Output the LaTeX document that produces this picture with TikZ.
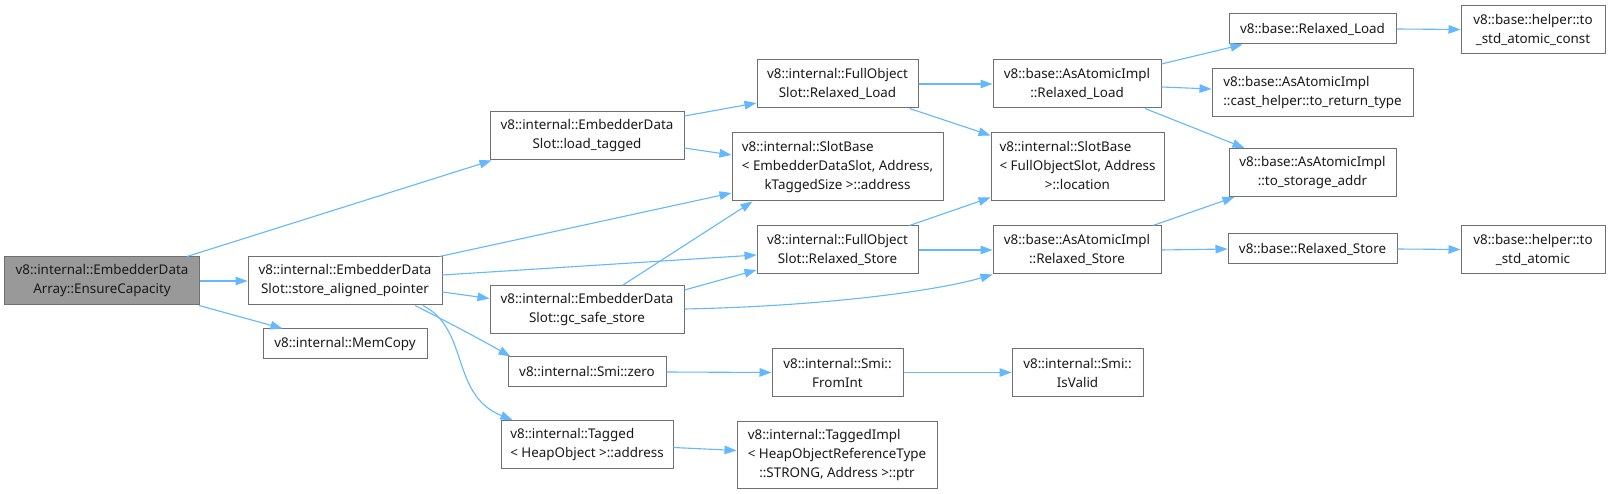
\documentclass[tikz,border=0pt]{standalone}
\usepackage{fontspec}
\setmainfont{Noto Sans}
\usetikzlibrary{arrows.meta,calc}
\definecolor{edgeblue}{HTML}{63B8FF}
\definecolor{boxgray}{HTML}{707070}
\definecolor{rootfill}{HTML}{999999}
\definecolor{txt}{HTML}{1A1A1A}
\newcommand{\lftlines}[3]{\begin{tabular}{@{}l@{}}#1\\#2\\\multicolumn{1}{@{}c@{}}{#3}\end{tabular}}
\newcommand{\lfttwo}[2]{\begin{tabular}{@{}l@{}}#1\\\multicolumn{1}{@{}c@{}}{#2}\end{tabular}}
\begin{document}
\begin{tikzpicture}[x=1pt,y=-1pt,
  callbox/.style={draw=boxgray, line width=1pt, fill=white, inner sep=0pt,
    align=center, font=\fontsize{13.4}{19}\selectfont, text=txt},
  calledge/.style={draw=edgeblue, line width=1.1pt, -{Triangle[length=12pt,width=8.5pt]}}]
\fill[white] (0,0) rectangle (1610,494);
\useasboundingbox (0,0) rectangle (1610,494);

% column 1
\node[callbox, fill=rootfill, minimum width=195pt, minimum height=48pt] (ec) at (102,281) {v8::internal::EmbedderData\\Array::EnsureCapacity};
% column 2
\node[callbox, minimum width=194pt, minimum height=48pt] (sap) at (345,281) {v8::internal::EmbedderData\\Slot::store\_aligned\_pointer};
\node[callbox, minimum width=164pt, minimum height=30pt] (memcopy) at (345,344) {v8::internal::MemCopy};
% column 3
\node[callbox, minimum width=194pt, minimum height=48pt] (lt) at (587,136) {v8::internal::EmbedderData\\Slot::load\_tagged};
\node[callbox, minimum width=194pt, minimum height=48pt] (gcs) at (587,309.5) {v8::internal::EmbedderData\\Slot::gc\_safe\_store};
\node[callbox, minimum width=158pt, minimum height=30pt] (zero) at (587,372) {v8::internal::Smi::zero};
\node[callbox, minimum width=172pt, minimum height=48pt] (tagged) at (587,444.5) {\lfttwo{v8::internal::Tagged}{< HeapObject >::address}};
% column 4
\node[callbox, minimum width=161pt, minimum height=48pt] (fosrl) at (837.5,84) {v8::internal::FullObject\\Slot::Relaxed\_Load};
\node[callbox, minimum width=211pt, minimum height=68pt] (sbe) at (837.5,167) {\lftlines{v8::internal::SlotBase}{< EmbedderDataSlot, Address,}{kTaggedSize >::address}};
\node[callbox, minimum width=161pt, minimum height=48pt] (fosrs) at (837.5,250) {v8::internal::FullObject\\Slot::Relaxed\_Store};
\node[callbox, minimum width=131pt, minimum height=48pt] (fromint) at (837.5,372.5) {v8::internal::Smi::\\FromInt};
\node[callbox, minimum width=200pt, minimum height=67pt] (timpl) at (837,454.5) {\lftlines{v8::internal::TaggedImpl}{< HeapObjectReferenceType}{::STRONG, Address >::ptr}};
% column 5
\node[callbox, minimum width=168pt, minimum height=48pt] (aairl) at (1077,84) {v8::base::AsAtomicImpl\\::Relaxed\_Load};
\node[callbox, minimum width=173pt, minimum height=68pt] (sbf) at (1077.5,167) {\lftlines{v8::internal::SlotBase}{< FullObjectSlot, Address}{>::location}};
\node[callbox, minimum width=168pt, minimum height=48pt] (aairs) at (1077,250) {v8::base::AsAtomicImpl\\::Relaxed\_Store};
\node[callbox, minimum width=131pt, minimum height=48pt] (isvalid) at (1077.5,372.5) {v8::internal::Smi::\\IsValid};
% column 6
\node[callbox, minimum width=167pt, minimum height=30pt] (brl) at (1312.5,29) {v8::base::Relaxed\_Load};
\node[callbox, minimum width=201pt, minimum height=48pt] (cast) at (1312.5,92.5) {\lfttwo{v8::base::AsAtomicImpl}{::cast\_helper::to\_return\_type}};
\node[callbox, minimum width=167pt, minimum height=48pt] (tsa) at (1312.5,172.5) {v8::base::AsAtomicImpl\\::to\_storage\_addr};
\node[callbox, minimum width=169pt, minimum height=30pt] (brs) at (1312.5,249) {v8::base::Relaxed\_Store};
% column 7
\node[callbox, minimum width=144pt, minimum height=48pt] (tsac) at (1533,29.5) {v8::base::helper::to\\\_std\_atomic\_const};
\node[callbox, minimum width=144pt, minimum height=48pt] (tsat) at (1533,249.5) {v8::base::helper::to\\\_std\_atomic};

% edges
\draw[calledge] ($(ec.north)+(85,0)$) -- ($(lt.south west)+(2,0)$);
\draw[calledge] (ec.east) -- (sap.west);
\draw[calledge] ($(ec.south east)+(-1,0)$) -- ($(memcopy.north west)+(20,0)$);

\draw[calledge] ($(sap.north east)+(-3,0)$) -- ($(sbe.west)+(0,26)$);
\draw[calledge] ($(sap.east)+(0,-6)$) -- ($(fosrs.west)+(0,5)$);
\draw[calledge] ($(sap.east)+(0,11)$) -- ($(gcs.west)+(0,-11)$);
\draw[calledge] ($(sap.south)+(70,0)$) .. controls (440,318) and (478,338) .. ($(zero.north west)+(3,0)$);
\draw[calledge] ($(sap.south)+(78,0)$) .. controls (470,330) and (450,395) .. ($(tagged.north west)+(12,0)$);

\draw[calledge] ($(lt.east)+(0,-20)$) -- ($(fosrl.west)+(0,19)$);
\draw[calledge] ($(lt.east)+(0,12)$) -- ($(sbe.west)+(0,-12)$);
\draw[calledge] ($(gcs.north)+(36,0)$) -- ($(sbe.south west)+(21,0)$);
\draw[calledge] ($(gcs.east)+(0,-19.5)$) -- ($(fosrs.west)+(0,20)$);
\draw[calledge] ($(gcs.east)+(0,-0.5)$) .. controls (830,306) and (940,290) .. (aairs.south west);

\draw[calledge] (fosrl.east) -- (aairl.west);
\draw[calledge] ($(fosrl.south)+(72,0)$) -- ($(sbf.north west)+(0,3)$);
\draw[calledge] ($(fosrs.north)+(72,0)$) -- ($(sbf.south west)+(0,-4)$);
\draw[calledge] (fosrs.east) -- (aairs.west);

\draw[calledge] ($(aairl.east)+(0,-20)$) -- ($(brl.south west)+(14,0)$);
\draw[calledge] ($(aairl.east)+(0,3)$) -- ($(cast.west)+(0,-3.5)$);
\draw[calledge] ($(aairl.south)+(68,0)$) -- ($(tsa.north west)+(16,0)$);
\draw[calledge] ($(aairs.north)+(76,0)$) -- ($(tsa.south west)+(6,0)$);
\draw[calledge] (aairs.east) -- (brs.west);

\draw[calledge] (brl.east) -- (tsac.west);
\draw[calledge] (brs.east) -- (tsat.west);

\draw[calledge] (zero.east) -- (fromint.west);
\draw[calledge] (fromint.east) -- (isvalid.west);
\draw[calledge] ($(tagged.east)+(0,3)$) -- ($(timpl.west)+(0,-4)$);
\end{tikzpicture}
\end{document}
